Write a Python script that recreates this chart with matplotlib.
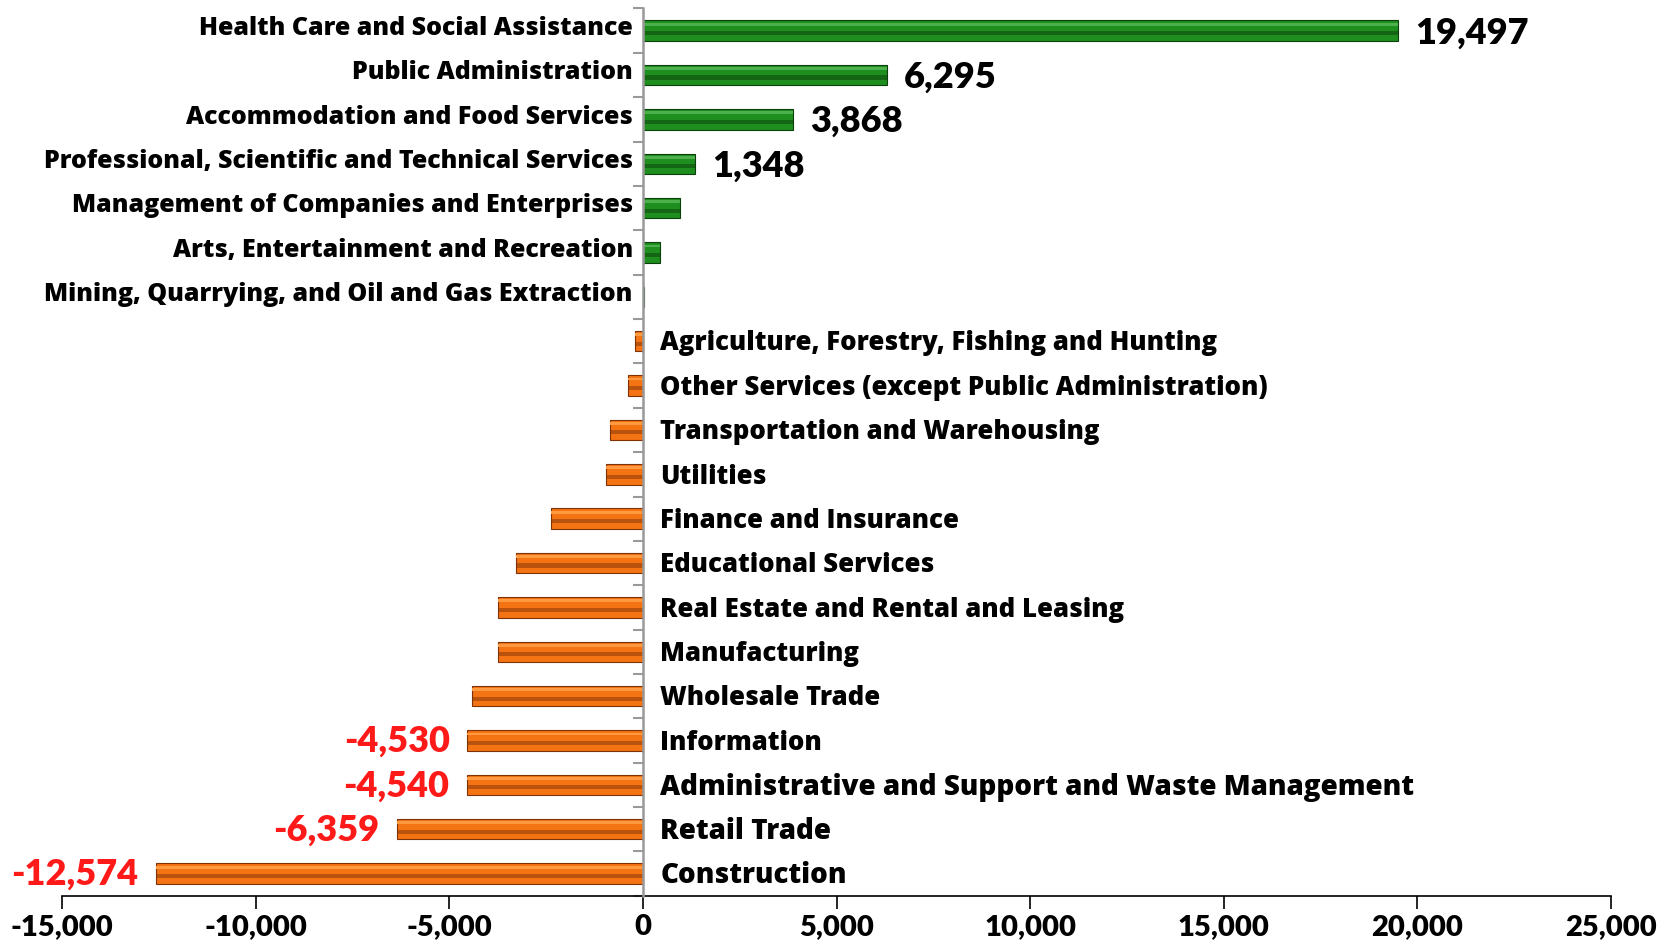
import matplotlib
matplotlib.use("Agg")
import matplotlib.pyplot as plt
from matplotlib.ticker import FuncFormatter, FixedLocator
import numpy as np

# Change in employment by industry, top to bottom
industries = [
    "Health Care and Social Assistance",
    "Public Administration",
    "Accommodation and Food Services",
    "Professional, Scientific and Technical Services",
    "Management of Companies and Enterprises",
    "Arts, Entertainment and Recreation",
    "Mining, Quarrying, and Oil and Gas Extraction",
    "Agriculture, Forestry, Fishing and Hunting",
    "Other Services (except Public Administration)",
    "Transportation and Warehousing",
    "Utilities",
    "Finance and Insurance",
    "Educational Services",
    "Real Estate and Rental and Leasing",
    "Manufacturing",
    "Wholesale Trade",
    "Information",
    "Administrative and Support and Waste Management",
    "Retail Trade",
    "Construction",
]
changes = [19497, 6295, 3868, 1348, 950, 430, 20, -200, -380, -850, -940,
           -2370, -3280, -3740, -3750, -4410, -4530, -4540, -6359, -12574]
labelled = {"Health Care and Social Assistance", "Public Administration",
            "Accommodation and Food Services",
            "Professional, Scientific and Technical Services",
            "Information", "Administrative and Support and Waste Management",
            "Retail Trade", "Construction"}
big_names = {"Administrative and Support and Waste Management",
             "Retail Trade", "Construction"}

plt.rcParams['font.family'] = ['Lato', 'DejaVu Sans']
name_font = ['Open Sans', 'DejaVu Sans']

fig = plt.figure(figsize=(16.73, 9.40), dpi=100)
ax = fig.add_axes([0.037, 0.047, 0.926, 0.944])

y = np.arange(len(industries))
h = 0.46

for yi, v in zip(y, changes):
    if v >= 0:
        base, light, dark = "#1e8e1e", "#4cb04c", "#0b3f0b"
    else:
        base, light, dark = "#f47312", "#ff9a40", "#7d3208"
    # bevelled bar: base fill, light top edge, dark middle stripe
    ax.barh(yi, v, height=h, color=base, edgecolor=dark, linewidth=0.8, zorder=2)
    ax.barh(yi - h * 0.32, v, height=h * 0.14, color=light, linewidth=0, zorder=3)
    ax.barh(yi + h * 0.12, v, height=h * 0.2, color=dark, alpha=0.5,
            linewidth=0, zorder=3)

ax.set_xlim(-15000, 25000)
ax.set_ylim(len(industries) - 0.5, -0.5)

ax.spines['top'].set_visible(False)
ax.spines['right'].set_visible(False)
ax.spines['left'].set_position(('data', 0))
ax.spines['left'].set_color("#999999")
ax.spines['left'].set_linewidth(1.8)
ax.spines['left'].set_zorder(4)
ax.spines['bottom'].set_color("black")
ax.spines['bottom'].set_linewidth(1.2)

ax.yaxis.set_major_locator(FixedLocator(np.arange(-0.5, len(industries), 1)))
ax.tick_params(axis='y', which='major', length=7, width=1.5, color="#999999",
               direction='out', labelleft=False)
ax.xaxis.set_major_locator(FixedLocator(np.arange(-15000, 25001, 5000)))
ax.xaxis.set_major_formatter(FuncFormatter(lambda v, p: f"{int(v):,}"))
ax.tick_params(axis='x', length=9, width=1.2, pad=4, labelsize=21)
for t in ax.get_xticklabels():
    t.set_fontweight('heavy')

for yi, name, v in zip(y, industries, changes):
    size = 20 if name in big_names else 18.5
    if v >= 0:
        ax.text(-260, yi - 0.05, name, ha='right', va='center', fontsize=18,
                fontweight='heavy', family=name_font, zorder=5)
    else:
        ax.text(450, yi + 0.05, name, ha='left', va='center', fontsize=size,
                fontweight='heavy', family=name_font, zorder=5)
    if name in labelled:
        if v >= 0:
            ax.text(v + 450, yi + 0.05, f"{v:,}", ha='left', va='center',
                    fontsize=26, fontweight='heavy', color='black')
        else:
            ax.text(v - 450, yi + 0.02, f"{v:,}", ha='right', va='center',
                    fontsize=26, fontweight='heavy', color='#ff1a1a')

fig.savefig("out.png", dpi=100)
